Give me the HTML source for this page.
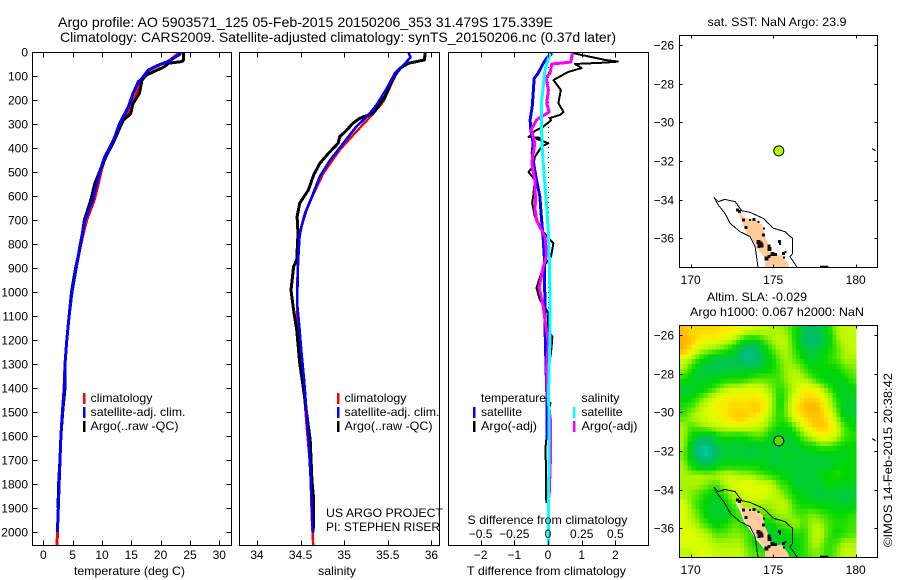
<!DOCTYPE html>
<html lang="en">
<head>
<meta charset="utf-8">
<title>Argo profile 5903571_125</title>
<style>
html,body{margin:0;padding:0;background:#fff;}
svg{display:block;}
text{font-family:"Liberation Sans",sans-serif;font-size:12px;fill:#000;}
</style>
</head>
<body>
<svg id="fig" width="900" height="580" viewBox="0 0 900 580" xmlns="http://www.w3.org/2000/svg">
  <rect x="0" y="0" width="900" height="580" fill="#fff"/>
  <text x="58" y="27" textLength="495" lengthAdjust="spacingAndGlyphs" style="font-size:14px">Argo profile: AO 5903571_125 05-Feb-2015 20150206_353 31.479S 175.339E</text>
  <text x="60" y="42" textLength="556" lengthAdjust="spacingAndGlyphs" style="font-size:14px">Climatology: CARS2009. Satellite-adjusted climatology: synTS_20150206.nc (0.37d later)</text>

  <defs>
    <clipPath id="clipT"><rect x="32" y="52" width="200" height="493"/></clipPath>
    <clipPath id="clipS"><rect x="239" y="52" width="201" height="493"/></clipPath>
    <clipPath id="clipD"><rect x="448" y="52" width="201" height="493"/></clipPath>
    <clipPath id="clipM1"><rect x="679" y="35" width="199" height="232"/></clipPath>
    <clipPath id="clipM2"><rect x="679" y="325" width="199" height="232"/></clipPath>
  </defs>

  <g id="tempLines" clip-path="url(#clipT)"></g>
  <g id="salLines" clip-path="url(#clipS)"></g>
  <g id="diffLines" clip-path="url(#clipD)"></g>
  <g id="map1" clip-path="url(#clipM1)"></g>
  <g id="map2" clip-path="url(#clipM2)"></g>
  <g id="axes"></g>

  <rect x="32.5" y="52.5" width="199" height="493" fill="none" stroke="#000"/>
  <rect x="239.5" y="52.5" width="200" height="493" fill="none" stroke="#000"/>
  <rect x="448.5" y="52.5" width="200" height="493" fill="none" stroke="#000"/>
  <rect x="679.5" y="35.5" width="198" height="232" fill="none" stroke="#000"/>
  <rect x="679.5" y="325.5" width="198" height="232" fill="none" stroke="#000"/>

  <text x="74" y="575" textLength="111" lengthAdjust="spacingAndGlyphs">temperature (deg C)</text>
  <text x="318" y="575" textLength="38" lengthAdjust="spacingAndGlyphs">salinity</text>
  <text x="467" y="575" textLength="159" lengthAdjust="spacingAndGlyphs">T difference from climatology</text>
  <text x="467.5" y="524" textLength="160" lengthAdjust="spacingAndGlyphs">S difference from climatology</text>

  <g>
    <rect x="83" y="393" width="2.5" height="11" fill="#f00"/>
    <rect x="83" y="407" width="2.5" height="11" fill="#00f"/>
    <rect x="83" y="421" width="2.5" height="11" fill="#000"/>
    <text x="90.5" y="402" textLength="62" lengthAdjust="spacingAndGlyphs">climatology</text>
    <text x="90.5" y="416" textLength="95" lengthAdjust="spacingAndGlyphs">satellite-adj. clim.</text>
    <text x="90.5" y="430" textLength="88" lengthAdjust="spacingAndGlyphs">Argo(..raw -QC)</text>
  </g>
  <g>
    <rect x="337" y="393" width="2.5" height="11" fill="#f00"/>
    <rect x="337" y="407" width="2.5" height="11" fill="#00f"/>
    <rect x="337" y="421" width="2.5" height="11" fill="#000"/>
    <text x="344.5" y="402" textLength="62" lengthAdjust="spacingAndGlyphs">climatology</text>
    <text x="344.5" y="416" textLength="95" lengthAdjust="spacingAndGlyphs">satellite-adj. clim.</text>
    <text x="344.5" y="430" textLength="88" lengthAdjust="spacingAndGlyphs">Argo(..raw -QC)</text>
  </g>
  <text x="326" y="517" textLength="117" lengthAdjust="spacingAndGlyphs">US ARGO PROJECT</text>
  <text x="326" y="531" textLength="114" lengthAdjust="spacingAndGlyphs">PI: STEPHEN RISER</text>

  <g>
    <text x="481" y="402" textLength="65" lengthAdjust="spacingAndGlyphs">temperature</text>
    <rect x="473" y="407" width="2.5" height="11" fill="#00f"/>
    <text x="481" y="416" textLength="41" lengthAdjust="spacingAndGlyphs">satellite</text>
    <rect x="473" y="421" width="2.5" height="11" fill="#000"/>
    <text x="481" y="430" textLength="56" lengthAdjust="spacingAndGlyphs">Argo(-adj)</text>
    <text x="581.5" y="402" textLength="38" lengthAdjust="spacingAndGlyphs">salinity</text>
    <rect x="573" y="407" width="2.5" height="11" fill="#0ff"/>
    <text x="581.5" y="416" textLength="41" lengthAdjust="spacingAndGlyphs">satellite</text>
    <rect x="573" y="421" width="2.5" height="11" fill="#f0f"/>
    <text x="581.5" y="430" textLength="56" lengthAdjust="spacingAndGlyphs">Argo(-adj)</text>
  </g>

  <text x="707.5" y="26" textLength="139" lengthAdjust="spacingAndGlyphs">sat. SST: NaN  Argo: 23.9</text>
  <text x="707" y="301" textLength="100" lengthAdjust="spacingAndGlyphs">Altim. SLA: -0.029</text>
  <text x="690" y="316" textLength="174" lengthAdjust="spacingAndGlyphs">Argo h1000: 0.067 h2000: NaN</text>
  <text transform="translate(892,547) rotate(-90)" textLength="174" lengthAdjust="spacingAndGlyphs">©IMOS 14-Feb-2015 20:38:42</text>

<script>
// ---- axis tick labels ----
const depthTicks = [0,100,200,300,400,500,600,700,800,900,1000,1100,1200,1300,1400,1500,1600,1700,1800,1900,2000];
const tempTicks = [0,5,10,15,20,25,30];
const salTicks = [34,34.5,35,35.5,36];
const tDiffTicks = [-2,-1,0,1,2];
const sDiffTicks = [-0.5,-0.25,0,0.25,0.5];
const lonTicks = [170,175,180];
const latTicks = [-26,-28,-30,-32,-34,-36];

// ---- temperature profiles: depth (m), temperature (deg C) ----
const tClimDepth = [0,36,58,75,110,124,172,228,270,304,353,394,436,492,547,616,700,800,900,1000,1100,1200,1300,1400,1500,1600,1700,1800,1900,2000,2054];
const tClimValue = [23.3,21.5,19.5,18.1,17,16.5,15.9,15,13.9,13.2,12.4,11.5,10.6,9.9,9.4,8.7,7.4,6.4,5.6,4.9,4.4,4,3.7,3.55,3.25,3,2.85,2.7,2.55,2.4,2.35];
const tSatDepth = [0,9,36,58,75,110,124,172,228,270,304,353,394,436,492,547,616,700,800,900,1000,1100,1200,1300,1400,1500,1600,1700,1800,1900,2000];
const tSatValue = [23.3,23.3,21.6,19.3,17.9,16.8,16.2,15.3,14.5,13.6,12.9,12.2,11.4,10.5,9.7,9.1,8.4,7.1,6.3,5.6,4.9,4.4,4,3.7,3.6,3.25,3,2.85,2.7,2.55,2.4];
const tArgoDepth = [0,33,40,47,61,96,117,172,214,256,286,318,380,429,492,547,616,700,800,900,1000,1100,1200,1300,1400,1500,1600,1700,1800,1900];
const tArgoValue = [23.9,23.9,23.6,21.3,20.7,17.6,16.8,16.4,15.3,14.9,13.6,13,11.9,10.8,9.7,8.8,8.1,7,6.4,5.5,4.8,4.4,4,3.7,3.7,3.3,3,2.85,2.6,2.5];

// ---- salinity profiles ----
const sClimDepth = [0,22,47,89,151,207,262,339,408,506,589,658,728,811,1019,1090,1229,1421,1563,1729,1950,2054];
const sClimValue = [35.735,35.76,35.7,35.6,35.52,35.45,35.32,35.12,34.95,34.76,34.65,34.57,34.51,34.47,34.46,34.46,34.485,34.54,34.57,34.61,34.63,34.645];
const sSatDepth = [0,22,47,89,151,221,262,311,380,450,519,603,672,756,880,1046,1146,1254,1367,1463,1604,1771,1896,2004];
const sSatValue = [35.735,35.76,35.7,35.58,35.49,35.37,35.28,35.14,34.99,34.84,34.72,34.63,34.55,34.49,34.47,34.46,34.485,34.51,34.54,34.56,34.59,34.615,34.63,34.64];
const sArgoDepth = [0,33,47,68,110,186,256,276,297,325,353,380,422,464,512,575,630,686,756,867,894,992,1075,1158,1296,1396,1617,1783,1867,2000];
const sArgoValue = [35.93,35.92,35.735,35.64,35.56,35.47,35.33,35.18,35.1,35.03,34.95,34.93,34.82,34.72,34.65,34.59,34.49,34.46,34.47,34.455,34.42,34.39,34.42,34.455,34.49,34.53,34.61,34.63,34.65,34.645];

// ---- difference profiles ----
const dtSatDepth = [5,26,47,88,110,228,283,325,380,422,478,533,603,645,700,783,853,936,1033,1146,1242,1354,1450,1617];
const dtSatValue = [0.11,-0.04,-0.14,-0.29,-0.41,-0.47,-0.53,-0.51,-0.44,-0.47,-0.41,-0.34,-0.24,-0.22,-0.19,-0.14,-0.11,-0.11,-0.09,-0.09,-0.07,-0.05,-0.03,-0.03];
const dtArgoDepth = [5,33,40,44,50,67,83,117,158,213,250,262,275,285,311,330,354,358,362,380,394,437,478,500,533,600,630,686,750,797,853,895,983,1033,1062,1089,1158,1187,1254,1325,1450,1463,1500,1646,1880];
const dtArgoValue = [0.75,1.69,2.07,1.69,0.8,1,0.6,0.16,0.38,0.31,0.46,0.36,0.06,0.09,-0.14,-0.4,-0.58,-0.19,-0.34,0.01,-0.19,-0.39,-0.44,-0.58,-0.39,-0.44,-0.47,-0.39,-0.14,0.16,0.09,-0.14,-0.34,-0.24,-0.09,0.01,-0.01,0.13,0.09,-0.01,-0.03,0.07,0.02,-0.07,-0.05];
const dsSatDepth = [5,75,213,311,408,504,645,754,895,1089,1200,1320,1450,1500,2054];
const dsSatValue = [0.015,-0.022,-0.048,-0.048,-0.042,-0.03,-0.01,0.003,0.012,0.015,0.015,0.008,0.003,0.008,0.003];
const dsArgoDepth = [5,42,50,88,108,158,213,250,283,325,380,462,533,630,645,700,770,846,895,983,1062,1117,1212,1312,1408,1533,1700,1854];
const dsArgoValue = [0.18,0.17,0.028,0.015,-0.015,0.003,-0.01,0.008,-0.085,-0.125,-0.098,-0.12,-0.098,-0.092,-0.098,-0.085,-0.022,-0.01,-0.035,-0.065,-0.035,-0.022,0.003,-0.01,-0.008,0.018,0.018,0.008];

// ---- SLA heatmap: colour level per 0.5 deg cell, north to south ----
const slaLevels = [
[9,8.5,8.5,8.5,8.5,8,8,7.5,7,6.5,6.5,6,6,5.5,4,2.5,2,2.5,4,6,6.5,6.5],
[9.5,9,8,7.5,7.5,7,6.5,5,4,4,5,6,6.5,6,4,2,1.5,2,3.5,5.5,6.5,6.5],
[9.5,8,6.5,6,5.5,5,4,2.5,1,1.5,3.5,5,6,6,4.5,3,2.5,3,4,5,6,6.5],
[7,6,4.5,3.5,2.5,2.5,2.5,2,0.7,1.5,3,4,5.5,6,5,4,3,3.5,4.5,5,6,6],
[6,4.5,3,2.5,2.5,2.5,2.5,3,3,3,3.5,4,5,6,6,5,4,4,4,4,5,5.5],
[4.5,3.5,3,3.5,3.5,4,4,4,4.5,5,5,5,5,6,6.5,6,5,4,3.5,3.5,4,5],
[3,3,3.5,4,5,6,6.5,6.5,7,7,6.5,5.5,4.5,5.5,6.5,7.5,7.5,6.5,5,3.5,3,4],
[3.5,4,5,6,7,7.5,8,8,8,8,7.5,6,4,5.5,7.5,8.5,8.5,8,6.5,4.5,3,3.5],
[4.5,5,6,7,7.5,8,8.5,8.5,8.5,9,8,6,4,6,8,9,9.5,9,7,5,3,3],
[5,6,6.5,7,7.5,8,8.5,9,8.5,8,7,5.5,4.5,5.5,7.5,8.5,9,9,8,6,3.5,3.5],
[6,5,5.5,6,6.5,6.5,7,7,7,6.5,6,5,4,4,5.5,7,8.5,9,8.5,7,5,4],
[6,4,3,2.5,3.5,4.5,4,4,4.5,5,5,3.5,3,3,4,5.5,6.5,7.5,7.5,6.5,5,4.5],
[6,3,1,0.5,2.5,3,3,3,3,3,3,3,3,3,3,4,4,5,5,4.5,4,4],
[5.5,3,1,0.3,2,3,3,3,2.5,3,3.5,3,3,3.5,3,3,3,3,3,3.5,3,4],
[6,4,3,2.5,3.5,4,4,4,4,4,3.5,3,3,3,3,3,3,3,3,4,4,4],
[6,6,6,6,6,6.5,6.5,6,6,5.5,5,4.5,4,3.5,3,3,3,3.5,4,4.5,4,4],
[6,6,6,5.5,5,6,7,7,7.5,7,7,6.5,5,4.5,3,3,3,3,4,3.5,3.5,3.5],
[6,5.5,5,4,3.5,4.5,6,6.5,7,7,7,6.5,6,5,4,3.5,3,2.5,3,3,2.5,3],
[7,5.5,4.5,3.5,3,3.5,5,6,6.5,6,6,6,6.5,6,4.5,4,4,3.5,3.5,3.5,3,3.5],
[7,6,5,3.5,3,3,4,5,5,5,5,5.5,6,6,5,5,5.5,5,4.5,4,4,4.5],
[7,6.5,5.5,4.5,3.5,4,5,5,4,3.5,4,4,5,5.5,6,5,6,6,5,4.5,4.5,5],
[7,7,6.5,6,5,5,5.5,5.5,5,4,3,3,3.5,4,4.5,4.5,6,6.5,5,4,4.5,5],
[7,7,7,6.5,6,6,6,6,5,4,3.5,3.5,3.5,3.5,4,4.5,6,6,4.5,5,6,6],
[6.5,6.5,7,7,6.5,6.5,6.5,6.5,5.5,5,5,4,3.5,3.5,4,4.5,5.5,5.5,4.5,5.5,6.5,6.5]
];

// ---- map geography: [lon, lat] ----
const floatLon = 175.339;
const floatLat = -31.479;
const landOutline = [[172.69,-34.40],[173.0,-34.7],[173.3,-34.95],[173.8,-35.0],[174.35,-35.3],[174.5,-35.9],[174.7,-36.3],[174.85,-36.9],[175.5,-36.85],[175.9,-37.3],[176,-37.6],[174.5,-37.6],[174.5,-37.0],[174.0,-36.5],[173.6,-36.0],[173.3,-35.6],[173.1,-35.1],[172.85,-34.65]];
const landWestEdge = [[172.75,-34.6],[173.05,-35.1],[173.25,-35.6],[173.95,-36.5],[174.45,-37.0]];
const shelfEast = [[171.41,-33.88],[171.68,-34.10],[172.08,-33.98],[172.22,-34.02],[172.69,-34.10],[173.09,-34.57],[173.6,-34.66],[174.4,-34.97],[175.01,-35.48],[175.72,-35.66],[175.92,-35.83],[176.18,-36.0],[176.18,-36.78],[176.02,-36.95],[176.53,-37.6]];
const shelfWest = [[171.41,-33.88],[171.68,-34.28],[172.08,-34.71],[172.38,-35.22],[172.99,-35.66],[173.6,-35.91],[173.9,-36.43],[174.1,-37.6]];
const coastBlobs = [[172.83,-34.53],[172.95,-34.62],[173.2,-35.05],[173.35,-35.43],[173.6,-35.05],[173.85,-35.02],[174.1,-35.15],[174.4,-35.83],[174.45,-35.5],[174.1,-36.2],[174.2,-36.3],[174.3,-36.38],[174.15,-36.42],[174.75,-36.4],[174.78,-36.55],[174.6,-37.05],[174.75,-36.95],[174.97,-36.81],[175.15,-36.85],[175.37,-36.17],[175.62,-36.78],[175.42,-36.3],[175.65,-37.0],[175.75,-36.7]];
const blobSizes = [3,3,3,3,2,3,2,3,2,4,5,4,3,3,4,4,3,4,3,3,3,2,2,2];
const offshoreIsland = [[181.0,-31.36],[181.2,-31.47]];
const seamountBar = [[177.84,-37.46],[178.34,-37.46]];

// ---- axis functions ----
const NS = 'http://www.w3.org/2000/svg';
const yDepth = d => 52 + d * 0.24;
const xTemp = v => 43.3 + v * 5.867;
const xSal = v => 257 + (v - 34) * 87.2;
const xDiffT = v => 548 + v * 33.7;
const xDiffS = v => 548 + v * 134.8;
const xLon = v => 690.7 + (v - 170) * 16.5;
const yLat = (v, top) => top + 9.7 + (-26 - v) * 19.33;
const fmt = v => String(v).replace('-', '\u2212');

function mk(tag, parent, attrs, txt) {
  const el = document.createElementNS(NS, tag);
  for (const k in attrs) el.setAttribute(k, attrs[k]);
  if (txt !== undefined) el.textContent = txt;
  parent.appendChild(el);
  return el;
}
function pts(depths, vals, xf) {
  return depths.map((d, i) => xf(vals[i]).toFixed(1) + ',' + yDepth(d).toFixed(1)).join(' ');
}
function prof(parent, depths, vals, xf, color, w) {
  return mk('polyline', parent, {points: pts(depths, vals, xf), fill: 'none', stroke: color, 'stroke-width': w, 'stroke-linejoin': 'round', 'shape-rendering': 'crispEdges'});
}

// ---- profile panels ----
const gT = document.getElementById('tempLines');
const lnTClim = prof(gT, tClimDepth, tClimValue, xTemp, '#f00', 3);


const lnTArgo = prof(gT, tArgoDepth, tArgoValue, xTemp, '#000', 3);


const lnTSat = prof(gT, tSatDepth, tSatValue, xTemp, '#00f', 3);



const gS = document.getElementById('salLines');
const lnSClim = prof(gS, sClimDepth, sClimValue, xSal, '#f00', 2.4);


const lnSArgo = prof(gS, sArgoDepth, sArgoValue, xSal, '#000', 3);


const lnSSat = prof(gS, sSatDepth, sSatValue, xSal, '#00f', 2.6);



const gD = document.getElementById('diffLines');
const zeroLine = mk('line', gD, {x1: xDiffT(0) + 0.5, x2: xDiffT(0) + 0.5, y1: 52, y2: 545, stroke: '#000', 'stroke-width': 1, 'stroke-dasharray': '1 4'});


const lnDtArgo = prof(gD, dtArgoDepth, dtArgoValue, xDiffT, '#000', 2);


const lnDtSat = prof(gD, dtSatDepth, dtSatValue, xDiffT, '#00f', 3);


const lnDsArgo = prof(gD, dsArgoDepth, dsArgoValue, xDiffS, '#f0f', 3);


const lnDsSat = prof(gD, dsSatDepth, dsSatValue, xDiffS, '#0ff', 3);



// ---- heatmap ----
const colorStops = [[0,215,175],[0,190,130],[0,190,100],[0,205,50],[0,215,0],[70,230,0],[170,245,0],[220,255,0],[255,235,0],[255,195,0],[255,160,0]];
function levelColor(v) {
  const c = Math.max(0, Math.min(10, v));
  const i = Math.min(9, Math.floor(c));
  const f = c - i;
  const a = colorStops[i], b = colorStops[i + 1];
  return 'rgb(' + [0, 1, 2].map(k => Math.round(a[k] + (b[k] - a[k]) * f)).join(',') + ')';
}
function levelAt(u, v) {
  const rows = slaLevels.length, cols = slaLevels[0].length;
  const cu = Math.max(0, Math.min(cols - 1, u)), cv = Math.max(0, Math.min(rows - 1, v));
  const c0 = Math.min(cols - 2, Math.floor(cu)), r0 = Math.min(rows - 2, Math.floor(cv));
  const fu = cu - c0, fv = cv - r0;
  return (slaLevels[r0][c0] * (1 - fu) + slaLevels[r0][c0 + 1] * fu) * (1 - fv) +
         (slaLevels[r0 + 1][c0] * (1 - fu) + slaLevels[r0 + 1][c0 + 1] * fu) * fv;
}
const heatLon0 = 169.33;
const heatLonStep = 0.4868;
const heatLat0 = -25.5;
const heatLatStep = 0.5;

const m2 = document.getElementById('map2');
const heat = mk('g', m2, {'shape-rendering': 'crispEdges'});


for (let r = 0; r < slaLevels.length * 2; r++) {
  for (let c = 0; c < slaLevels[0].length * 2; c++) {
    const x0 = xLon(heatLon0 + c * heatLonStep / 2), x1 = xLon(heatLon0 + (c + 1) * heatLonStep / 2);
    const y0 = yLat(heatLat0 - r * heatLatStep / 2, 325.3), y1 = yLat(heatLat0 - (r + 1) * heatLatStep / 2, 325.3);
    const cell = mk('rect', heat, {x: x0.toFixed(1), y: y0.toFixed(1), width: (x1 - x0 + 0.3).toFixed(1), height: (y1 - y0 + 0.3).toFixed(1), fill: levelColor(levelAt((c + 0.5) / 2 - 0.5, (r + 0.5) / 2 - 0.5))});
    
    
  }
}

// ---- map content ----
function drawGeo(parent, top, markerFill, withEdge) {
  const toPts = a => a.map(p => xLon(p[0]).toFixed(1) + ',' + yLat(p[1], top).toFixed(1)).join(' ');
  const land = mk('polygon', parent, {points: toPts(landOutline), fill: '#ffcc99', stroke: 'none'});
  
  
  if (withEdge) {
    const edge = mk('polyline', parent, {points: toPts(landWestEdge), fill: 'none', stroke: '#fff', 'stroke-width': 1.4});
    
    
  }
  const east = mk('polyline', parent, {points: toPts(shelfEast), fill: 'none', stroke: '#000', 'stroke-width': 1, 'shape-rendering': 'crispEdges'});
  
  
  const west = mk('polyline', parent, {points: toPts(shelfWest), fill: 'none', stroke: '#000', 'stroke-width': 1, 'shape-rendering': 'crispEdges'});
  
  
  coastBlobs.forEach((p, i) => {
    const s = blobSizes[i];
    const b = mk('rect', parent, {x: (xLon(p[0]) - s / 2).toFixed(1), y: (yLat(p[1], top) - s / 2).toFixed(1), width: s, height: s, fill: '#111', 'shape-rendering': 'crispEdges'});
    
    
  });
  const isl = mk('polyline', parent, {points: toPts(offshoreIsland), fill: 'none', stroke: '#000', 'stroke-width': 1.2});
  
  
  const bar = mk('polyline', parent, {points: toPts(seamountBar), fill: 'none', stroke: '#000', 'stroke-width': 1.6});
  
  
  const mark = mk('circle', parent, {cx: xLon(floatLon).toFixed(1), cy: yLat(floatLat, top).toFixed(1), r: 5, fill: markerFill, stroke: '#000', 'stroke-width': 1});
  
  
}
drawGeo(document.getElementById('map1'), 35.3, '#b4ff00', false);
drawGeo(m2, 325.3, '#50e000', true);

// ---- ticks ----
const ax = document.getElementById('axes');
function xTicks(list, xf, yTop, yBot, tl) {
  list.forEach(v => {
    const x = Math.round(xf(v)) + 0.5;
    const a = mk('line', ax, {x1: x, x2: x, y1: yTop, y2: yTop + tl, stroke: '#000'});
    
    
    const b = mk('line', ax, {x1: x, x2: x, y1: yBot, y2: yBot - tl, stroke: '#000'});
    
    
  });
}
function xLabels(list, xf, y) {
  list.forEach(v => {
    const t = mk('text', ax, {x: xf(v).toFixed(1), y: y, 'text-anchor': 'middle'}, fmt(v));
    
    
  });
}
function yTicks(list, yf, xL, xR, tl, labelX) {
  list.forEach(v => {
    const y = Math.round(yf(v)) + 0.5;
    const a = mk('line', ax, {x1: xL, x2: xL + tl, y1: y, y2: y, stroke: '#000'});
    
    
    const b = mk('line', ax, {x1: xR, x2: xR - tl, y1: y, y2: y, stroke: '#000'});
    
    
    const t = mk('text', ax, {x: labelX, y: y + 4, 'text-anchor': 'end'}, fmt(v));
    
    
  });
}
xTicks(tempTicks, xTemp, 52.5, 545.5, 5);
xLabels(tempTicks, xTemp, 559);
yTicks(depthTicks, yDepth, 32.5, 231.5, 5, 28);
xTicks(salTicks, xSal, 52.5, 545.5, 5);
xLabels(salTicks, xSal, 559);
xTicks(tDiffTicks, xDiffT, 52.5, 545.5, 5);
xLabels(tDiffTicks, xDiffT, 559);
xLabels(sDiffTicks, xDiffS, 538);
xTicks(lonTicks, xLon, 35.5, 267.5, 3);
xLabels(lonTicks, xLon, 284);
yTicks(latTicks, v => yLat(v, 35.3), 679.5, 877.5, 3, 674);
xTicks(lonTicks, xLon, 325.5, 557.5, 3);
xLabels(lonTicks, xLon, 574);
yTicks(latTicks, v => yLat(v, 325.3), 679.5, 877.5, 3, 674);
</script>
</svg>
</body>
</html>
